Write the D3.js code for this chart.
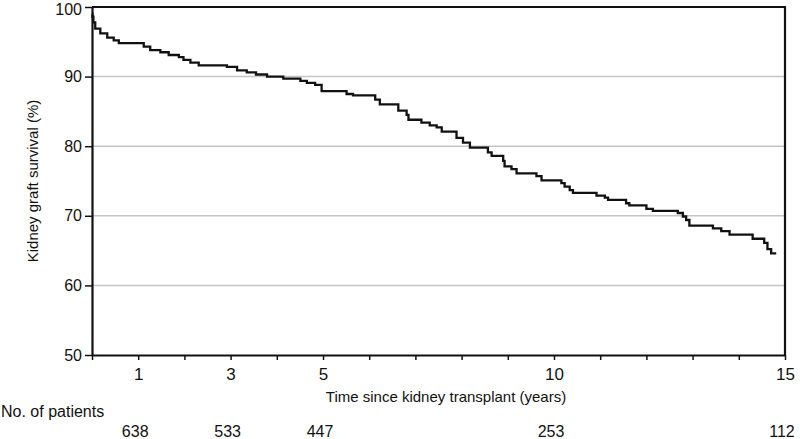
<!DOCTYPE html>
<html><head><meta charset="utf-8">
<script src="https://cdn.jsdelivr.net/npm/d3@7"></script>
<style>
html,body{margin:0;padding:0;background:#fff;}
svg{display:block;font-family:"Liberation Sans",Arial,sans-serif;}
</style></head>
<body>
<svg id="chart" width="800" height="439"></svg>
<script>
// Kaplan-Meier step data: time of event (years) and survival (%) after the step
const eventTimes = [0, 0.01, 0.03, 0.07, 0.18, 0.33, 0.47, 0.58, 1.12, 1.26, 1.48, 1.66, 1.88, 1.98, 2.13, 2.31, 2.92, 3.14, 3.35, 3.55, 3.79, 4.14, 4.51, 4.65, 4.83, 4.97, 5.51, 5.65, 6.13, 6.23, 6.63, 6.81, 6.85, 7.13, 7.31, 7.46, 7.57, 7.89, 8.03, 8.18, 8.57, 8.65, 8.90, 8.93, 9.08, 9.19, 9.62, 9.73, 10.16, 10.23, 10.34, 10.41, 10.92, 11.10, 11.17, 11.56, 11.63, 12.00, 12.14, 12.68, 12.79, 12.86, 12.93, 13.44, 13.62, 13.80, 14.30, 14.55, 14.62, 14.70, 14.81];
const survival   = [99.0, 98.6, 97.8, 96.9, 96.2, 95.6, 95.2, 94.8, 94.3, 93.8, 93.5, 93.1, 92.8, 92.4, 92.0, 91.6, 91.4, 90.9, 90.6, 90.3, 90.0, 89.7, 89.4, 89.1, 88.8, 87.9, 87.5, 87.3, 86.7, 86.0, 85.1, 84.5, 83.8, 83.4, 83.0, 82.7, 82.1, 81.2, 80.5, 79.8, 79.1, 78.6, 77.9, 77.1, 76.7, 76.1, 75.7, 75.1, 74.7, 74.2, 73.7, 73.3, 72.9, 72.6, 72.3, 71.8, 71.5, 71.0, 70.7, 70.4, 69.9, 69.4, 68.6, 68.2, 67.8, 67.3, 66.7, 66.1, 65.2, 64.6, 64.6];
const yTicks = [50, 60, 70, 80, 90, 100];
const xTicks = [0,1,2,3,4,5,6,7,8,9,10,11,12,13,14,15];
const xTickLabels = [1, 3, 5, 10, 15];
const riskTimes = [1, 3, 5, 10, 15];
const riskCounts = [638, 533, 447, 253, 112];

const W = 800, H = 439;
const m = {left: 92, right: 15, top: 7, bottom: 84};
const svg = d3.select("#chart");
const x = d3.scaleLinear().domain([0, 15]).range([m.left, W - m.right]);
const y = d3.scaleLinear().domain([50, 100]).range([H - m.bottom, m.top]);

// gridlines
svg.append("g").selectAll("line").data(yTicks.filter(d => d > 50 && d < 100)).join("line")
  .attr("x1", x(0)).attr("x2", x(15)).attr("y1", d => y(d)).attr("y2", d => y(d))
  .attr("stroke", "#c4c4c4").attr("stroke-width", 1.5);

// curve
const data = eventTimes.map((t, i) => ({t, s: survival[i]}));
svg.append("path").datum(data)
  .attr("fill", "none").attr("stroke", "#111").attr("stroke-width", 2.3)
  .attr("d", d3.line().x(d => x(d.t)).y(d => y(d.s)).curve(d3.curveStepAfter));

// frame top & right
svg.append("line").attr("x1", x(0)).attr("x2", x(15) + 1).attr("y1", y(100)).attr("y2", y(100))
  .attr("stroke", "#111").attr("stroke-width", 2.2);
svg.append("line").attr("x1", x(15)).attr("x2", x(15)).attr("y1", y(100)).attr("y2", y(50))
  .attr("stroke", "#111").attr("stroke-width", 2.2);

// y axis
const yAxis = svg.append("g").attr("transform", `translate(${x(0)},0)`)
  .call(d3.axisLeft(y).tickValues(yTicks).tickSize(7).tickPadding(3).tickSizeOuter(0));
yAxis.select(".domain").attr("stroke", "#111").attr("stroke-width", 2.2);
yAxis.selectAll(".tick line").attr("stroke", "#111").attr("stroke-width", 1.5);
yAxis.selectAll("text").attr("font-size", 16).attr("fill", "#111")
  .attr("font-family", "Liberation Sans, Arial, sans-serif")
  .attr("dy", d => d === 100 ? "0.48em" : "0.32em");

// x axis
const xAxis = svg.append("g").attr("transform", `translate(0,${y(50)})`)
  .call(d3.axisBottom(x).tickValues(xTicks).tickSize(5).tickPadding(8).tickSizeOuter(0)
    .tickFormat(d => xTickLabels.includes(d) ? String(d) : ""));
xAxis.select(".domain").attr("stroke", "#111").attr("stroke-width", 2.2);
xAxis.selectAll(".tick line").attr("stroke", "#111").attr("stroke-width", 1.5);
xAxis.selectAll("text").attr("font-size", 17).attr("fill", "#111")
  .attr("font-family", "Liberation Sans, Arial, sans-serif");

// axis titles
svg.append("text").attr("x", 446).attr("y", 402).attr("text-anchor", "middle")
  .attr("font-size", 15).attr("fill", "#111").text("Time since kidney transplant (years)");
svg.append("text").attr("transform", "translate(38,181) rotate(-90)").attr("text-anchor", "middle")
  .attr("font-size", 15).attr("fill", "#111").text("Kidney graft survival (%)");

// number at risk
svg.append("text").attr("x", 1).attr("y", 417).attr("font-size", 16).attr("fill", "#111").text("No. of patients");
svg.append("g").selectAll("text").data(riskCounts).join("text")
  .attr("x", (d, i) => x(riskTimes[i]) - 3).attr("y", 437).attr("text-anchor", "middle")
  .attr("font-size", 16).attr("fill", "#111").text(d => d);
</script>
</body></html>
